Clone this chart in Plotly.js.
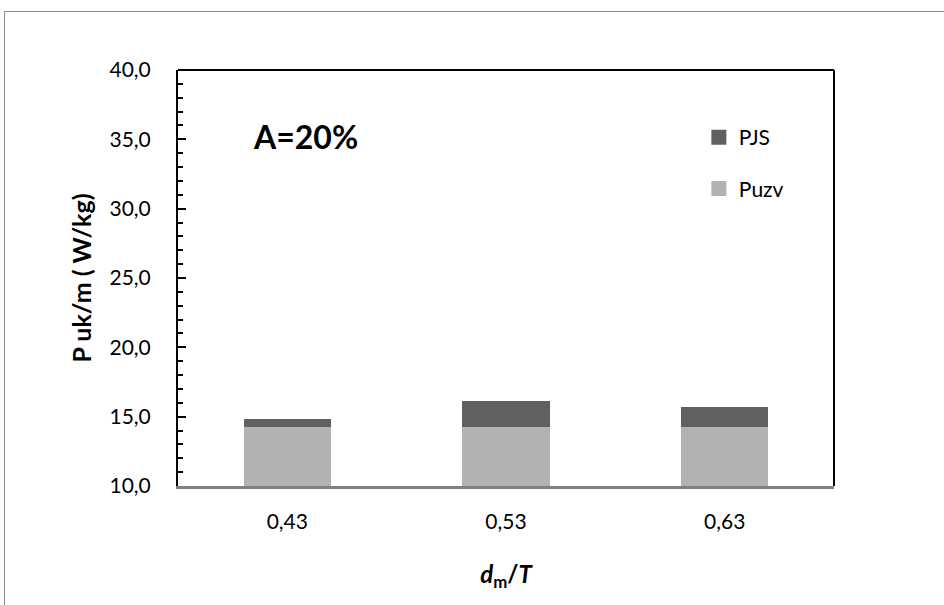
<!DOCTYPE html>
<html>
<head>
<meta charset="utf-8">
<script src="https://cdn.plot.ly/plotly-3.0.1.min.js"></script>
<style>
  html, body { margin: 0; padding: 0; background: #fff; }
  #wrap { position: relative; width: 944px; height: 605px; }
  #chart { position: absolute; left: 0; top: 0; width: 944px; height: 605px; }
  #frame { position: absolute; left: 4px; top: 11px; width: 940px; height: 594px;
           border-top: 1.5px solid #8c8c8c; border-left: 1.5px solid #8c8c8c;
           pointer-events: none; box-sizing: border-box; }
</style>
</head>
<body>
<div id="wrap">
  <div id="chart"></div>
  <div id="frame"></div>
</div>
<script>
// Data
const categories = ['0,43', '0,53', '0,63'];
const puzv = [14.25, 14.25, 14.25];
const pjs = [0.6, 1.9, 1.45];
const yTicks = [10, 15, 20, 25, 30, 35, 40];

const FONT = 'Lato, "Liberation Sans", sans-serif';

const traces = [
  {
    type: 'bar', name: 'Puzv', x: categories, y: puzv,
    marker: { color: '#b2b2b2', line: { width: 0 } },
    width: 0.4, showlegend: false, hoverinfo: 'x+y+name'
  },
  {
    type: 'bar', name: 'PJS', x: categories, y: pjs,
    marker: { color: '#606060', line: { width: 0 } },
    width: 0.4, showlegend: false, hoverinfo: 'x+y+name'
  },
  // legend entries (square markers)
  {
    type: 'scatter', mode: 'markers', name: 'PJS', x: [null], y: [null],
    legendgroup: 'a',
    marker: { symbol: 'square', size: 15, color: '#606060' }, hoverinfo: 'skip'
  },
  {
    type: 'scatter', mode: 'markers', name: 'Puzv', x: [null], y: [null],
    legendgroup: 'b',
    marker: { symbol: 'square', size: 15, color: '#b2b2b2' }, hoverinfo: 'skip'
  }
];

const layout = {
  width: 944, height: 605,
  margin: { l: 178, r: 110, t: 70, b: 119 },
  paper_bgcolor: '#ffffff', plot_bgcolor: '#ffffff',
  separators: ', ',
  barmode: 'stack',
  bargap: 0.6,
  font: { family: FONT, size: 21, color: '#000' },
  xaxis: {
    type: 'category',
    showgrid: false, zeroline: false,
    showline: true, linecolor: '#808080', linewidth: 2.5,
    ticks: '', ticklabelstandoff: 15,
    tickfont: { family: FONT, size: 21, color: '#000' },
    mirror: false,
    title: { text: '<b><i>d</i></b><sub><b>m</b></sub><b>/<i>T</i></b>', font: { family: FONT, size: 24, color: '#000' }, standoff: 35 },
    fixedrange: true
  },
  yaxis: {
    range: [10, 40],
    tickvals: yTicks,
    tickformat: '.1f',
    showgrid: false, zeroline: false,
    showline: true, linecolor: '#000', linewidth: 2,
    ticks: 'inside', ticklen: 8, tickwidth: 2, tickcolor: '#000',
    minor: { dtick: 1, ticks: 'inside', ticklen: 5, tickwidth: 2, tickcolor: '#000' },
    ticklabelstandoff: 21,
    tickfont: { family: FONT, size: 21, color: '#000' },
    title: { text: '<b>P uk/m ( W/kg)</b>', font: { family: FONT, size: 25, color: '#000' }, standoff: 11 },
    fixedrange: true
  },
  shapes: [
    { type: 'line', xref: 'paper', yref: 'paper', x0: 0, x1: 1, y0: 1, y1: 1, line: { color: '#000', width: 2 } },
    { type: 'line', xref: 'paper', yref: 'paper', x0: 1, x1: 1, y0: 0, y1: 1, line: { color: '#000', width: 2 } }
  ],
  legend: {
    x: 0.794, y: 0.887, xanchor: 'left', yanchor: 'top',
    bgcolor: 'rgba(0,0,0,0)', borderwidth: 0,
    font: { family: FONT, size: 21, color: '#000' },
    tracegroupgap: 21, itemwidth: 30, traceorder: 'grouped'
  },
  annotations: [
    { text: '<b>A=20%</b>', xref: 'paper', yref: 'paper', x: 0.111, y: 0.841, xanchor: 'left', yanchor: 'middle',
      showarrow: false, font: { family: FONT, size: 32, color: '#000' } }
  ]
};

Plotly.newPlot('chart', traces, layout, { displayModeBar: false, staticPlot: true });
</script>
</body>
</html>
